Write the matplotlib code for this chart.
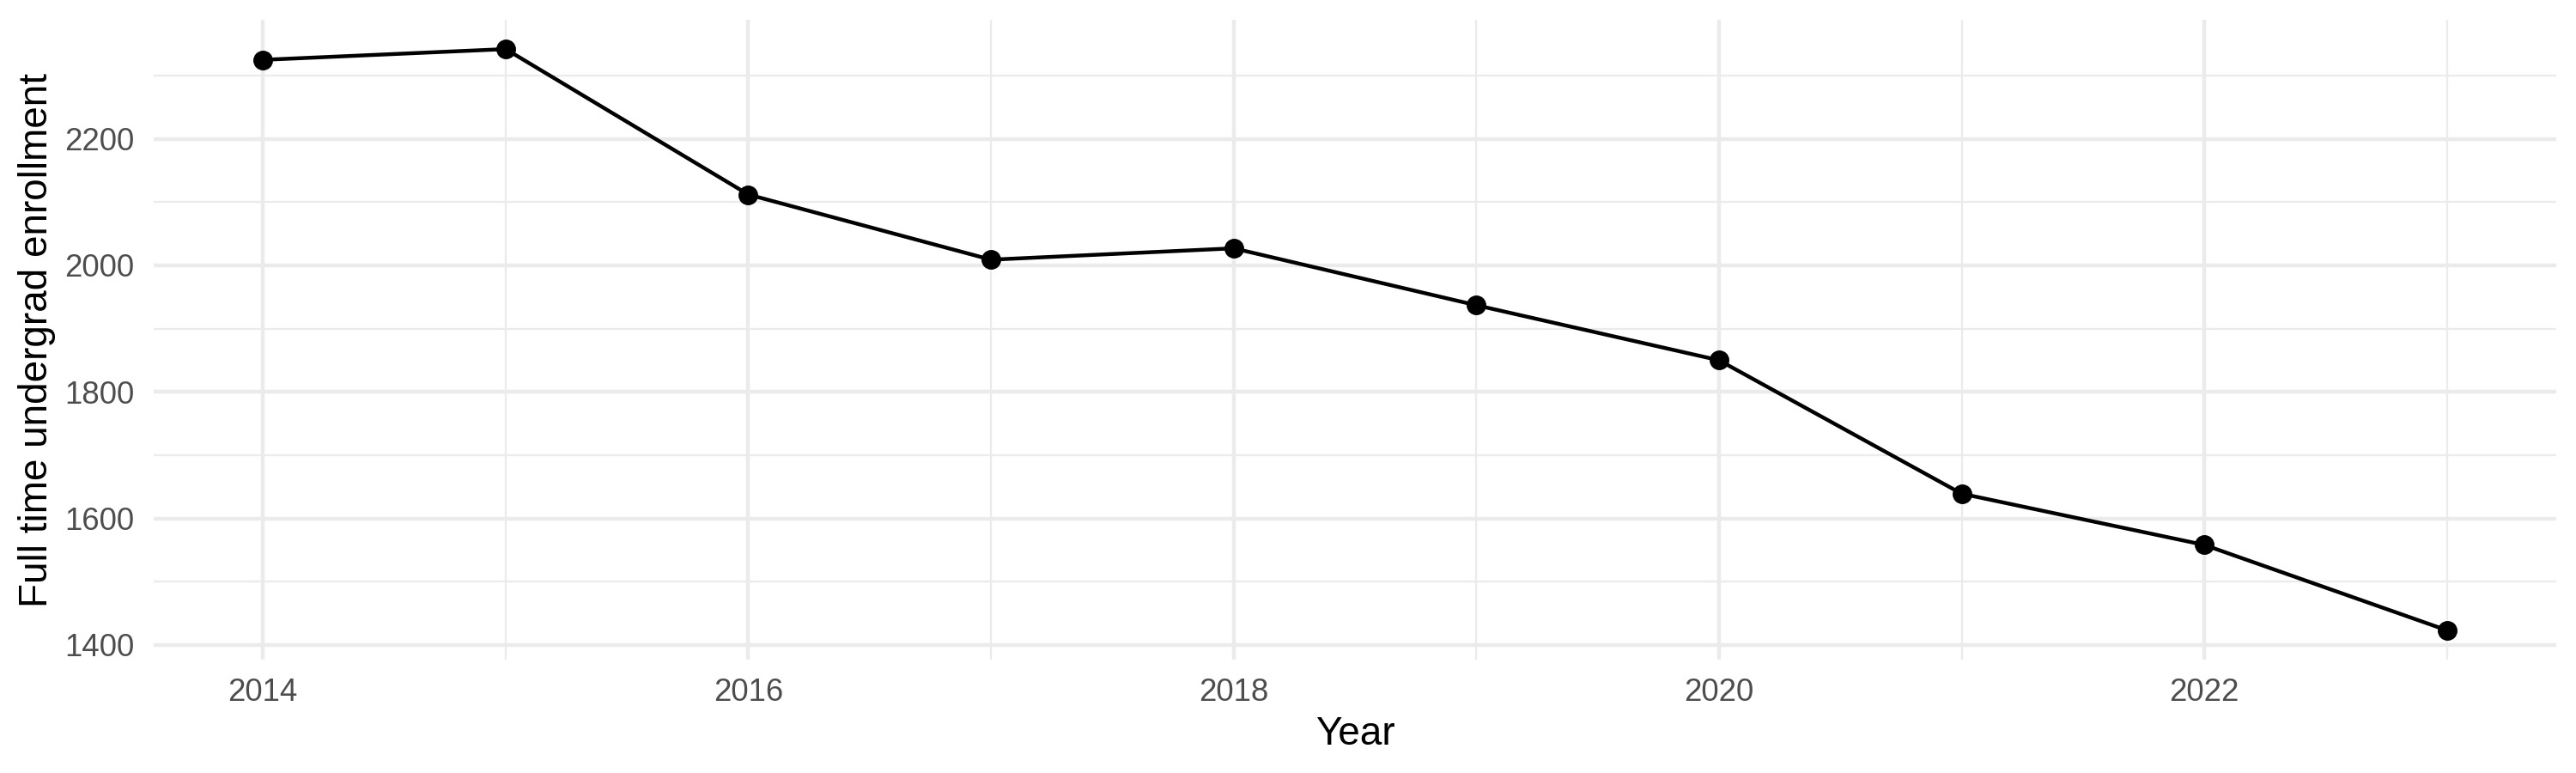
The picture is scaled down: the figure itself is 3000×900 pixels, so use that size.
import matplotlib
matplotlib.use("Agg")
import matplotlib.pyplot as plt
from matplotlib.ticker import MultipleLocator

years = [2014, 2015, 2016, 2017, 2018, 2019, 2020, 2021, 2022, 2023]
enrollment = [2325, 2342, 2112, 2009, 2027, 1937, 1850, 1639, 1558, 1423]
x_label = "Year"
y_label = "Full time undergrad enrollment"

plt.rcParams['font.family'] = ['Liberation Sans', 'DejaVu Sans']

fig = plt.figure(figsize=(10, 3), dpi=300)
ax = fig.add_axes([0.0597, 0.147, 0.9326, 0.8271])

ax.plot(years, enrollment, color='black', linewidth=1.07, zorder=3)
ax.plot(years, enrollment, 'o', color='black', markersize=4.5, zorder=4)

ax.margins(x=0.05, y=0.05)
ax.xaxis.set_major_locator(MultipleLocator(2))
ax.xaxis.set_minor_locator(MultipleLocator(1))
ax.yaxis.set_major_locator(MultipleLocator(200))
ax.yaxis.set_minor_locator(MultipleLocator(100))

ax.grid(which='major', color='#EBEBEB', linewidth=1.07)
ax.grid(which='minor', color='#EBEBEB', linewidth=0.53)
ax.set_axisbelow(True)
for s in ax.spines.values():
    s.set_visible(False)
ax.tick_params(which='both', length=0)
ax.tick_params(axis='both', labelsize=8.8, labelcolor='#4D4D4D')
ax.tick_params(axis='y', pad=5.5)
ax.tick_params(axis='x', pad=5.0)

ax.set_xlabel(x_label, fontsize=11, color='black', va='baseline')
ax.xaxis.set_label_coords(0.5, -0.133)
ax.set_ylabel(y_label, fontsize=11, color='black', va='bottom')
ax.yaxis.set_label_coords(-0.0407, 0.5)

fig.savefig("out.png", dpi=300, facecolor='white')
